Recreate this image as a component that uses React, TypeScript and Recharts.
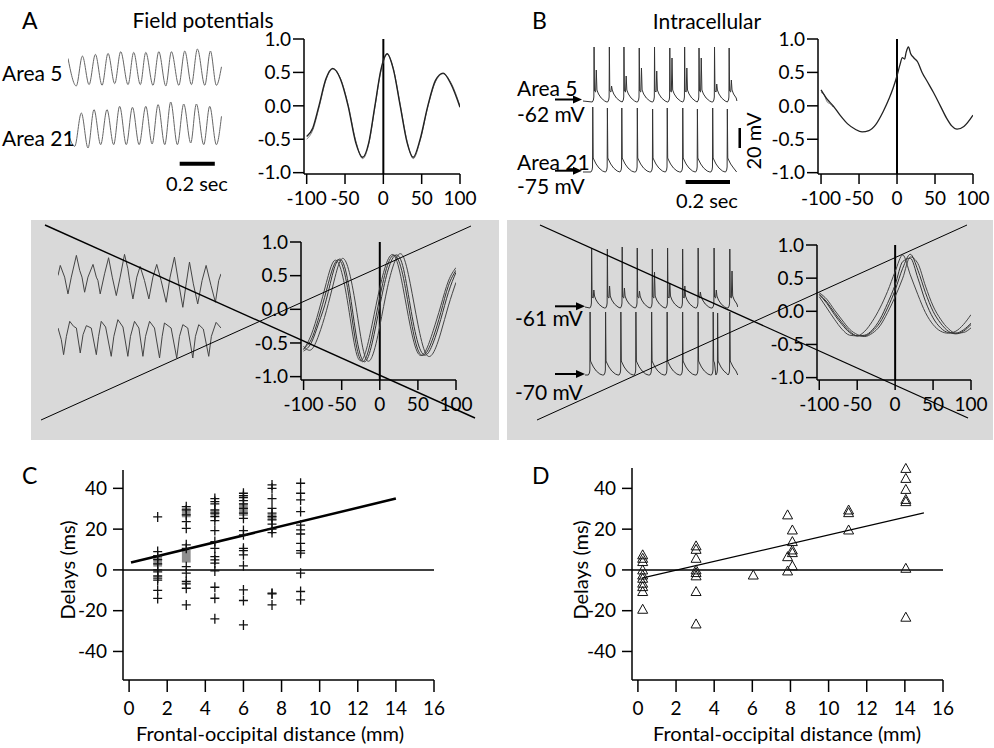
import React from "react";
import {
  LineChart,
  Line,
  ScatterChart,
  Scatter,
  XAxis,
  YAxis,
  ReferenceLine,
  ReferenceArea,
} from "recharts";

const FONT = "Lato, 'Open Sans', sans-serif";
const GRAY_BOX = "#d9d9d9";

// ---------- A: field potentials (arbitrary units, ms) ----------
const fieldTimeA5 = [0, 47, 82, 120, 156, 194, 228, 266, 300, 342, 374, 412, 443, 484, 517, 557, 589, 631, 665, 703, 737, 779, 811, 845, 874];
const fieldA5 = [0.8, -0.02, 0.87, 0.02, 0.92, 0, 0.95, 0.05, 1.0, 0.02, 0.98, 0.02, 0.98, 0, 1.0, -0.02, 1.0, 0, 1.02, 0.02, 1.08, 0, 1.02, 0, 0.55];
const fieldTimeA21 = [0, 38, 76, 114, 148, 186, 222, 260, 294, 332, 367, 405, 443, 479, 513, 551, 585, 623, 659, 699, 731, 773, 807, 845, 874];
const fieldA21 = [0.35, -0.05, 0.95, -0.1, 1.05, 0, 1.05, 0, 1.15, 0, 1.12, 0, 1.15, 0.02, 1.2, 0, 1.28, 0, 1.22, 0.05, 1.22, 0, 1.15, 0, 0.85];

// cross-correlation of the field potentials
const fieldLags = [-100, -92, -84, -75, -66, -56, -46, -36, -27, -19, -11, -3, 5, 13, 22, 31, 39, 48, 58, 68, 78, 88, 100];
const fieldCorr = [-0.46, -0.33, 0.0, 0.4, 0.56, 0.4, 0.0, -0.55, -0.77, -0.55, 0.0, 0.55, 0.78, 0.55, 0.0, -0.55, -0.77, -0.5, 0.0, 0.38, 0.49, 0.33, -0.02];
const fieldCorrAlt = [-0.5, -0.36, -0.03, 0.38, 0.55, 0.41, 0.02, -0.52, -0.79, -0.57, -0.02, 0.53, 0.77, 0.56, 0.02, -0.53, -0.79, -0.52, -0.02, 0.36, 0.48, 0.35, 0.0];

// ---------- B: intracellular (mV, ms) ----------
const bArea5Spikes = [50, 119, 185, 254, 323, 392, 459, 524, 594, 660];
const bArea5Peaks = [-9, -9, -9, -10, -9, -10, -9, -10, -9, -10];
const bArea5Second = [-32, -48, -38, -30, -33, -20, -30, -20, -46, -42];
const bArea21Spikes = [44, 110, 175, 245, 314, 380, 450, 516, 585, 651];
const bArea21Peaks = [-11, -12, -12, -12, -13, -12, -12, -13, -12, -13];

const cellLags = [-100, -92, -84, -75, -65, -55, -46, -37, -28, -18, -10, -5, 0, 4, 7, 10, 12, 15, 18, 22, 27, 33, 40, 48, 57, 65, 72, 79, 88, 100];
const cellCorr = [0.24, 0.1, 0.0, -0.14, -0.27, -0.35, -0.39, -0.37, -0.28, -0.08, 0.12, 0.27, 0.45, 0.62, 0.72, 0.7, 0.8, 0.88, 0.78, 0.72, 0.66, 0.5, 0.36, 0.2, 0.0, -0.18, -0.3, -0.35, -0.31, -0.14];
const cellLagsAlt = [-100, -96, -92, -88, -84];
const cellCorrAlt = [0.2, 0.17, 0.06, 0.03, -0.02];

// ---------- middle row: many cross-correlations ----------
const midLags = [-100, -90, -80, -70, -60, -50, -40, -30, -20, -10, 0, 10, 20, 30, 40, 50, 60, 70, 80, 90, 100];
const midFieldA = [-0.62, -0.5, -0.2, 0.15, 0.6, 0.73, 0.3, -0.45, -0.78, -0.5, 0.05, 0.55, 0.8, 0.65, 0.05, -0.5, -0.68, -0.5, -0.15, 0.25, 0.55];
const midFieldB = [-0.6, -0.38, -0.02, 0.4, 0.72, 0.55, -0.05, -0.68, -0.68, -0.22, 0.32, 0.72, 0.78, 0.35, -0.25, -0.65, -0.62, -0.32, 0.05, 0.42, 0.62];
const midFieldC = [-0.55, -0.6, -0.38, -0.02, 0.42, 0.75, 0.55, -0.05, -0.68, -0.7, -0.25, 0.32, 0.72, 0.8, 0.38, -0.22, -0.65, -0.65, -0.35, 0.05, 0.4];
const midFieldD = [-0.58, -0.45, -0.12, 0.28, 0.66, 0.68, 0.15, -0.58, -0.76, -0.38, 0.18, 0.65, 0.8, 0.52, -0.1, -0.6, -0.66, -0.42, -0.05, 0.35, 0.58];

const midCellA = [0.25, 0.12, -0.05, -0.2, -0.32, -0.37, -0.36, -0.28, -0.12, 0.12, 0.4, 0.75, 0.8, 0.5, 0.15, -0.1, -0.25, -0.32, -0.33, -0.28, -0.18];
const midCellB = [0.22, 0.05, -0.12, -0.27, -0.36, -0.37, -0.3, -0.15, 0.05, 0.3, 0.6, 0.85, 0.55, 0.25, -0.02, -0.2, -0.3, -0.33, -0.3, -0.2, -0.05];
const midCellC = [0.28, 0.18, 0.02, -0.13, -0.27, -0.35, -0.38, -0.33, -0.22, -0.02, 0.22, 0.5, 0.82, 0.72, 0.38, 0.08, -0.12, -0.26, -0.33, -0.32, -0.25];
const midCellD = [0.26, 0.14, -0.02, -0.17, -0.3, -0.37, -0.37, -0.3, -0.17, 0.05, 0.32, 0.65, 0.86, 0.62, 0.28, 0.0, -0.18, -0.3, -0.34, -0.3, -0.2];

// middle-left raw field traces
const midTimeUp = [0, 13, 38, 57, 76, 105, 124, 137, 152, 171, 200, 219, 228, 241, 266, 289, 310, 333, 355, 380, 399, 409, 428, 450, 469, 494, 519, 542, 564, 589, 618, 640, 665, 690, 713, 732, 751, 773, 798, 823, 846, 874, 899, 918, 931];
const midUp = [0.95, 1.25, 0.9, 0.4, 0.9, 1.55, 1.1, 0.9, 0.45, 0.9, 1.28, 0.9, 0.8, 0.4, 1.0, 1.48, 0.9, 0.35, 0.9, 1.58, 1.15, 0.8, 0.25, 0.9, 1.22, 0.8, 0.25, 0.9, 1.28, 0.8, 0.15, 0.9, 1.5, 0.7, 0.0, 0.7, 1.35, 0.7, 0.1, 0.8, 1.25, 0.65, 0.15, 0.8, 1.0];
const midTimeLow = [0, 19, 32, 48, 67, 89, 105, 127, 143, 162, 190, 219, 232, 247, 272, 304, 319, 342, 371, 399, 414, 437, 462, 485, 500, 523, 551, 580, 595, 608, 646, 678, 694, 713, 741, 770, 785, 804, 830, 861, 876, 903, 931];
const midLow = [0.95, 0.6, 0.15, 0.7, 1.15, 1.0, 0.95, 0.2, 0.75, 1.02, 0.95, 0.15, 0.7, 1.15, 0.98, 0.1, 0.7, 1.2, 0.98, 0.1, 0.7, 1.15, 0.95, 0.1, 0.7, 1.15, 0.95, 0.05, 0.7, 1.1, 0.95, 0.05, 0.7, 1.05, 0.95, 0.05, 0.7, 1.05, 0.92, 0.1, 0.7, 1.12, 0.95];

// middle-right raw intracellular traces
const midUpSpikes = [39, 110, 177, 245, 313, 382, 450, 520, 592, 663];
const midUpPeaks = [-3, -4, -2, -3, -4, -3, -4, -3, -3, -4];
const midUpSecond = [-45, -41, -43, -46, -27, -38, -41, -47, -45, -26];
const midLowSpikes = [32, 102, 171, 239, 310, 380, 450, 520, 588, 608, 663];
const midLowPeaks = [-8, -8, -8, -8, -8, -8, -8, -8, -8, -9, -8];

// waveform around each spike: ms from spike, mV above rest ("peak"/"second" from the lists)
const burstShape: [number, number | string][] = [[-8, -2], [-3, 0], [-1, 3], [0, "peak"], [2, 9], [7, 8], [10, "second"], [13, 10], [20, 6], [32, 2], [48, -1], [58, -2]];
const singleShape: [number, number | string][] = [[-8, -1], [-3, 1], [-1, 4], [0, "peak"], [2, 13], [6, 11], [15, 7], [28, 3], [44, 0], [56, -1]];

// ---------- C and D: delays vs distance ----------
const distTicks = [0, 2, 4, 6, 8, 10, 12, 14, 16];
const delayTicks = [-40, -20, 0, 20, 40];
const cDistances = [1.5, 3, 4.5, 6, 7.5, 9];
const cDelays15 = [26, 9, 7, 5, 3, 0, -1, -3, -4, -5, -10, -14];
const cDelays30 = [31, 29.4, 27, 23.7, 20.4, 12.3, 10.6, 1.6, -1.6, -5.7, -6.9, -9, -17.2];
const cDelays45 = [35, 33.5, 32.4, 29.4, 27.8, 26.1, 24.2, 19.3, 13.9, 10.6, 6.5, 4.9, 3.3, -0.5, -8.5, -13.9, -24];
const cDelays60 = [37.6, 36.4, 35.5, 34, 32.4, 30.2, 27.8, 25.3, 19.3, 17.2, 10.6, 9.5, 7.4, 2, -9.8, -15, -27];
const cDelays75 = [41.7, 40, 35, 30.2, 27.8, 26.1, 24.5, 22.5, 20, 18.3, -11.4, -11.8, -17.2];
const cDelays90 = [42.5, 37.6, 34.3, 28.6, 22, 19.6, 17.6, 13, 9.5, 8.2, -1.6, -10.6, -14.7];
const cClusterX = [1.5, 3, 3, 4.5, 6, 7.5];
const cClusterLow = [1.6, 25.8, 3.6, 26.6, 26.5, 24.5];
const cClusterHigh = [6.9, 30.5, 9.8, 29.4, 32.7, 27.4];
const cFit = [{ x: 0.1, y: 3.6 }, { x: 14, y: 35 }];

const dDistances = [0.25, 3.05, 6.05, 7.85, 8.1, 11.05, 14.05];
const dDelays02 = [7.4, 5.7, 4.1, 0, -2.5, -4.1, -6.5, -8.2, -10.6, -19.3];
const dDelays30 = [11.8, 10.1, 5.7, 0, -1.3, -2.9, -10.6, -26.5];
const dDelays60 = [-2.5];
const dDelays79 = [27, 6.5, -0.5];
const dDelays81 = [19.6, 13.9, 9.8, 8.5, 2];
const dDelays110 = [29.4, 28.1, 19.6];
const dDelays140 = [49.8, 44.9, 39.5, 34.6, 33.5, 0.8, -23.2];
const dFit = [{ x: 0.2, y: -4 }, { x: 15, y: 28 }];

const lagTicks = [-100, -50, 0, 50, 100];
const corrTicks = [-1, -0.5, 0, 0.5, 1];

const zip = (ts: number[], vs: number[]) => ts.map((t, i) => ({ t, v: vs[i] }));
const corr = (lags: number[], rs: number[]) => lags.map((lag, i) => ({ lag, r: rs[i] }));

function spikeTrace(start: number, end: number, rest: number, spikes: number[], peaks: number[], seconds: number[] | null, shape: [number, number | string][]) {
  const pts = [{ t: start, v: rest - 1 }];
  let last = start;
  spikes.forEach((ts, i) => {
    const next = spikes[i + 1] ?? Infinity;
    shape.forEach(([dt, dv]) => {
      const t = ts + dt;
      if (t <= last || t >= next - 8 || t >= end) return;
      let v: number;
      if (dv === "peak") v = peaks[i];
      else if (dv === "second") v = seconds ? seconds[i] : rest + 9;
      else v = rest + (dv as number);
      pts.push({ t, v });
      last = t;
    });
  });
  pts.push({ t: end, v: rest - 1 });
  return pts;
}

const columns = (xs: number[], ys: number[][]) => xs.flatMap((x, i) => ys[i].map((y) => ({ x, y })));

const cPoints = columns(cDistances, [cDelays15, cDelays30, cDelays45, cDelays60, cDelays75, cDelays90]);
const dPoints = columns(dDistances, [dDelays02, dDelays30, dDelays60, dDelays79, dDelays81, dDelays110, dDelays140]);

const tickStyle = { fill: "#000", fontSize: 19, fontFamily: FONT };
const axisStroke = { stroke: "#000", strokeWidth: 1.5 };

type Curve = { data: { lag: number; r: number }[]; color: string; width: number };

function CorrPlot({ left, top, plotW, plotH, xMin, yMin, curves, curve = "monotone" }: { left: number; top: number; plotW: number; plotH: number; xMin: number; yMin: number; curves: Curve[]; curve?: any }) {
  const yw = 60;
  const xh = 42;
  const mt = 16;
  const mr = 26;
  return (
    <div style={{ position: "absolute", left: left - yw, top: top - mt }}>
      <LineChart width={yw + plotW + mr} height={mt + plotH + xh} margin={{ top: mt, right: mr, bottom: 0, left: 0 }}>
        <XAxis type="number" dataKey="lag" domain={[xMin, 100]} ticks={lagTicks} allowDataOverflow height={xh} tick={tickStyle} tickLine={axisStroke} axisLine={axisStroke} tickSize={10} tickMargin={8} interval={0} />
        <YAxis type="number" dataKey="r" domain={[yMin, 1]} ticks={corrTicks} allowDataOverflow width={yw} tick={tickStyle} tickLine={axisStroke} axisLine={axisStroke} tickSize={11} tickMargin={2} interval={0} tickFormatter={(v: number) => v.toFixed(1)} />
        <ReferenceLine x={0} stroke="#000" strokeWidth={2} />
        {curves.map((c, i) => (
          <Line key={i} data={c.data} dataKey="r" type={curve} stroke={c.color} strokeWidth={c.width} dot={false} isAnimationActive={false} />
        ))}
      </LineChart>
    </div>
  );
}

function Trace({ left, top, width, height, xDomain, yDomain, data, color = "#444", curve = "linear", children }: any) {
  return (
    <div style={{ position: "absolute", left, top }}>
      <LineChart width={width} height={height} margin={{ top: 0, right: 0, bottom: 0, left: 0 }}>
        <XAxis type="number" dataKey="t" domain={xDomain} hide allowDataOverflow />
        <YAxis type="number" dataKey="v" domain={yDomain} hide allowDataOverflow />
        <Line data={data} dataKey="v" type={curve} stroke={color} strokeWidth={1} dot={false} isAnimationActive={false} />
        {children}
      </LineChart>
    </div>
  );
}

const PlusMark = (props: any) => {
  const { cx, cy } = props;
  if (cx == null || cy == null) return null;
  return <path d={`M${cx - 4.5},${cy}H${cx + 4.5}M${cx},${cy - 5}V${cy + 5}`} stroke="#111" strokeWidth={1.3} fill="none" />;
};

const TriangleMark = (props: any) => {
  const { cx, cy } = props;
  if (cx == null || cy == null) return null;
  return <path d={`M${cx},${cy - 5}L${cx + 5},${cy + 4}L${cx - 5},${cy + 4}Z`} stroke="#111" strokeWidth={1} fill="none" />;
};

function DelayPlot({ left, top, xMin, yMax, points, marker, fit, fitWidth, clusters }: any) {
  const yw = 60;
  const mt = 14;
  const plotH = 680 - top;
  return (
    <div style={{ position: "absolute", left: left - yw, top: top - mt }}>
      <ScatterChart width={yw + 311 + 14} height={mt + plotH + 50} margin={{ top: mt, right: 14, bottom: 0, left: 0 }}>
        <XAxis type="number" dataKey="x" domain={[xMin, 16]} ticks={distTicks} height={50} tick={tickStyle} tickLine={axisStroke} axisLine={axisStroke} tickSize={12} tickMargin={10} interval={0} />
        <YAxis type="number" dataKey="y" domain={[-54, yMax]} ticks={delayTicks} width={yw} tick={tickStyle} tickLine={axisStroke} axisLine={axisStroke} tickSize={10} tickMargin={6} interval={0} />
        <ReferenceLine y={0} stroke="#000" strokeWidth={1.5} />
        {clusters &&
          clusters.map((c: any, i: number) => (
            <ReferenceArea key={i} x1={c.x - 0.23} x2={c.x + 0.23} y1={c.lo} y2={c.hi} fill="#8f8f8f" fillOpacity={1} stroke="none" />
          ))}
        <ReferenceLine segment={fit} stroke="#000" strokeWidth={fitWidth} />
        <Scatter data={points} shape={marker} isAnimationActive={false} />
      </ScatterChart>
    </div>
  );
}

function Txt({ x, y, size = 20, center = false, rotate = false, children }: any) {
  const transform = rotate ? "translate(-50%,-50%) rotate(-90deg)" : center ? "translate(-50%,-50%)" : "translate(0,-50%)";
  return <div style={{ position: "absolute", left: x, top: y, fontSize: size, lineHeight: 1, whiteSpace: "nowrap", transform }}>{children}</div>;
}

function Arrow({ x1, x2, y }: { x1: number; x2: number; y: number }) {
  return (
    <g>
      <line x1={x1} y1={y} x2={x2 - 7} y2={y} stroke="#000" strokeWidth={2} />
      <path d={`M${x2},${y}L${x2 - 9},${y - 4}L${x2 - 9},${y + 4}Z`} fill="#000" />
    </g>
  );
}

export default function App() {
  const bA5 = spikeTrace(0, 695, -62, bArea5Spikes, bArea5Peaks, bArea5Second, burstShape);
  const bA21 = spikeTrace(0, 693, -75, bArea21Spikes, bArea21Peaks, null, singleShape);
  const mUp = spikeTrace(9, 699, -61, midUpSpikes, midUpPeaks, midUpSecond, burstShape);
  const mLow = spikeTrace(9, 699, -70, midLowSpikes, midLowPeaks, null, singleShape);
  const cClusters = cClusterX.map((x, i) => ({ x, lo: cClusterLow[i], hi: cClusterHigh[i] }));
  const msPerPx = 4.51;

  return (
    <div style={{ position: "absolute", left: 0, top: 0, width: 994, height: 748, background: "#fff", overflow: "hidden", fontFamily: FONT, color: "#000" }}>
      <div style={{ position: "absolute", left: 31, top: 220, width: 468, height: 220, background: GRAY_BOX }} />
      <div style={{ position: "absolute", left: 507, top: 220, width: 486, height: 220, background: GRAY_BOX }} />

      {/* A top */}
      <Trace left={68} top={45} width={154} height={47} xDomain={[0, 877]} yDomain={[-0.2, 1.2]} data={zip(fieldTimeA5, fieldA5)} color="#666" curve="monotone" />
      <Trace left={68} top={98} width={154} height={70} xDomain={[0, 877]} yDomain={[-0.7, 1.4]} data={zip(fieldTimeA21, fieldA21)} color="#666" curve="monotone">
        <ReferenceLine segment={[{ x: 636, y: -0.57 }, { x: 836, y: -0.57 }]} stroke="#000" strokeWidth={4} />
      </Trace>
      <CorrPlot left={304} top={39} plotW={156} plotH={135} xMin={-103.5} yMin={-1.02} curves={[
        { data: corr(fieldLags, fieldCorrAlt), color: "#777", width: 1 },
        { data: corr(fieldLags, fieldCorr), color: "#222", width: 1.4 },
      ]} />

      {/* B top */}
      <Trace left={583} top={38} width={155} height={67} xDomain={[0, 700]} yDomain={[-67, 0]} data={bA5} color="#333" />
      <Trace left={583} top={101} width={712 / msPerPx} height={83} xDomain={[0, 712]} yDomain={[-88, -5]} data={bA21} color="#333">
        <ReferenceLine segment={[{ x: 463, y: -86 }, { x: 663, y: -86 }]} stroke="#000" strokeWidth={4} />
        <ReferenceLine segment={[{ x: 708, y: -52 }, { x: 708, y: -32 }]} stroke="#000" strokeWidth={3} />
      </Trace>
      <CorrPlot left={818} top={39} plotW={155} plotH={135} xMin={-104} yMin={-1.02} curves={[
        { data: corr(cellLagsAlt, cellCorrAlt), color: "#777", width: 1 },
        { data: corr(cellLags, cellCorr), color: "#222", width: 1.3 },
      ]} />

      {/* middle left */}
      <Trace left={58} top={247} width={163} height={67} xDomain={[0, 931]} yDomain={[-0.2, 1.8]} data={zip(midTimeUp, midUp)} color="#444" />
      <Trace left={58} top={313} width={163} height={50} xDomain={[0, 931]} yDomain={[-0.1, 1.4]} data={zip(midTimeLow, midLow)} color="#444" />
      <CorrPlot left={301} top={242} plotW={155} plotH={138} xMin={-103.4} yMin={-1.05} curve="natural" curves={[
        { data: corr(midLags, midFieldA), color: "#333", width: 1 },
        { data: corr(midLags, midFieldB), color: "#444", width: 1 },
        { data: corr(midLags, midFieldC), color: "#444", width: 1 },
        { data: corr(midLags, midFieldD), color: "#333", width: 1 },
      ]} />

      {/* middle right */}
      <Trace left={583} top={245} width={155} height={66} xDomain={[0, 700]} yDomain={[-66, 0]} data={mUp} color="#333" />
      <Trace left={583} top={309} width={155} height={70} xDomain={[0, 700]} yDomain={[-75, -5]} data={mLow} color="#333" />
      <CorrPlot left={817} top={245} plotW={154} plotH={135} xMin={-103} yMin={-1.036} curves={[
        { data: corr(midLags, midCellA), color: "#333", width: 1 },
        { data: corr(midLags, midCellB), color: "#444", width: 1 },
        { data: corr(midLags, midCellC), color: "#444", width: 1 },
        { data: corr(midLags, midCellD), color: "#333", width: 1 },
      ]} />

      {/* C and D */}
      <DelayPlot left={123} top={470} xMin={-0.32} yMax={49} points={cPoints} marker={PlusMark} fit={cFit} fitWidth={2.5} clusters={cClusters} />
      <DelayPlot left={632} top={468} xMin={-0.31} yMax={50} points={dPoints} marker={TriangleMark} fit={dFit} fitWidth={1.2} />

      <svg width={994} height={748} style={{ position: "absolute", left: 0, top: 0, pointerEvents: "none" }}>
        <line x1={45} y1={225} x2={475} y2={418} stroke="#000" strokeWidth={1.4} />
        <line x1={41} y1={420} x2={471} y2={226} stroke="#000" strokeWidth={1} />
        <line x1={540} y1={225} x2={968} y2={418} stroke="#000" strokeWidth={1.3} />
        <line x1={537} y1={420} x2={967} y2={225} stroke="#000" strokeWidth={1} />
        <Arrow x1={555} x2={582} y={99.5} />
        <Arrow x1={555} x2={582} y={170.7} />
        <Arrow x1={555} x2={585} y={306.3} />
        <Arrow x1={555} x2={585} y={374} />
      </svg>

      <Txt x={22} y={20} size={23}>A</Txt>
      <Txt x={203} y={19} size={21}>
        <span style={{ position: "relative", left: "-50%" }}>Field potentials</span>
      </Txt>
      <Txt x={532} y={20} size={23}>B</Txt>
      <Txt x={707} y={20} size={21} center>Intracellular</Txt>
      <Txt x={2} y={72} size={21}>Area 5</Txt>
      <Txt x={2} y={137} size={21}>Area 21</Txt>
      <Txt x={197} y={183} size={20} center>0.2 sec</Txt>
      <Txt x={517} y={87} size={21}>Area 5</Txt>
      <Txt x={517} y={113} size={21}>-62 mV</Txt>
      <Txt x={517} y={161} size={21}>Area 21</Txt>
      <Txt x={517} y={185} size={21}>-75 mV</Txt>
      <Txt x={707} y={200} size={20} center>0.2 sec</Txt>
      <Txt x={753} y={141} size={20} rotate>20 mV</Txt>
      <Txt x={515} y={317} size={21}>-61 mV</Txt>
      <Txt x={515} y={391} size={21}>-70 mV</Txt>
      <Txt x={22} y={475} size={23}>C</Txt>
      <Txt x={532} y={475} size={23}>D</Txt>
      <Txt x={67} y={570} size={20} rotate>Delays (ms)</Txt>
      <Txt x={580} y={570} size={20} rotate>Delays (ms)</Txt>
      <Txt x={270} y={733} size={20} center>Frontal-occipital distance (mm)</Txt>
      <Txt x={787} y={733} size={20} center>Frontal-occipital distance (mm)</Txt>
    </div>
  );
}
